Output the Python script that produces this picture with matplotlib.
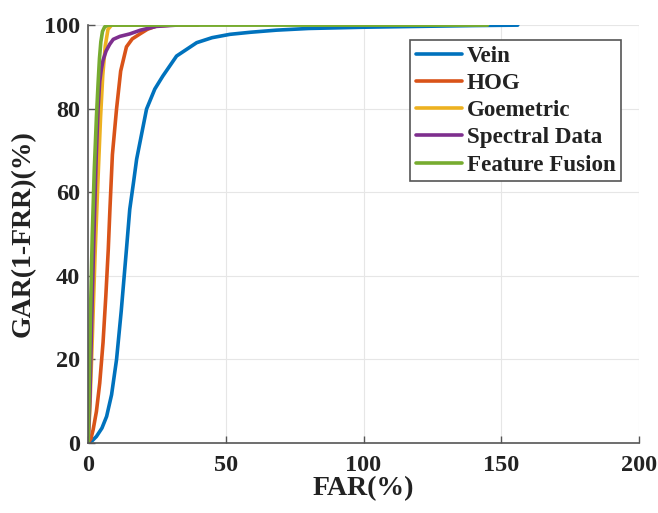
import matplotlib
matplotlib.use("Agg")
import matplotlib.pyplot as plt

plt.rcParams['font.family'] = ['Liberation Serif', 'DejaVu Serif']
plt.rcParams['font.weight'] = 'bold'

labels = ["Vein", "HOG", "Goemetric", "Spectral Data", "Feature Fusion"]
colors = ["#0072BD", "#D95319", "#EDB120", "#7E2F8E", "#77AC30"]

vein_x = [0, 1.5, 3.0, 5.0, 6.7, 8.5, 10.3, 12.0, 13.9, 15.1, 16.5, 17.6, 19.4, 21.2, 24.2, 27.1, 32.1, 39.4, 45, 51.5, 59, 68.4, 80, 100, 120, 140, 156]
vein_y = [0, 0.5, 1.5, 3.5, 6.3, 11.5, 19.9, 31.5, 46.3, 55.9, 62.5, 67.9, 73.9, 79.9, 84.7, 87.8, 92.6, 95.8, 97.0, 97.8, 98.3, 98.8, 99.2, 99.5, 99.7, 99.9, 100]

hog_x = [0, 1.0, 1.8, 3.0, 4.2, 5.4, 6.4, 7.3, 7.9, 8.8, 10.3, 11.8, 13.9, 16, 18.8, 21.5, 24.8, 30, 40]
hog_y = [0, 1.0, 3.1, 7.5, 14.3, 24, 35, 46.3, 55.9, 69, 79.9, 89, 94.8, 96.7, 97.9, 99.0, 99.8, 100, 100]

geo_x = [0, 0.6, 1.5, 2.5, 3.5, 4.5, 5.3, 6.2, 7.2, 8.5, 20]
geo_y = [0, 8, 25, 45, 62, 78, 88, 95, 99, 100, 100]

spec_x = [0, 0.6, 1.3, 2.1, 2.9, 3.6, 4.2, 4.8, 5.4, 6.5, 7.8, 9.1, 11.5, 15.1, 19, 24.8, 32]
spec_y = [0, 10, 30, 50, 68, 80, 86.5, 89.5, 91.6, 93.8, 95.4, 96.6, 97.3, 97.9, 98.8, 99.7, 100]

fus_x = [0, 0.3, 0.8, 1.5, 2.2, 3.0, 3.6, 4.1, 4.6, 5.2, 6.0, 7.2, 145]
fus_y = [0, 10, 30, 50, 65, 78, 86, 92, 96, 98.5, 99.6, 100, 100]

series = [(vein_x, vein_y), (hog_x, hog_y), (geo_x, geo_y), (spec_x, spec_y), (fus_x, fus_y)]

fig = plt.figure(figsize=(6.58, 5.13), dpi=100)
ax = fig.add_axes([0.134, 0.137, 0.837, 0.814])

for (x, y), c, lab in zip(series, colors, labels):
    ax.plot(x, y, color=c, lw=2.6, label=lab, solid_capstyle='round', solid_joinstyle='round')

ax.set_xlim(0, 200)
ax.set_ylim(0, 100)
ax.set_xticks([0, 50, 100, 150, 200])
ax.set_yticks([0, 20, 40, 60, 80, 100])
ax.grid(True, color='#e6e6e6', lw=0.8)
ax.set_axisbelow(True)
for s in ['top', 'right']:
    ax.spines[s].set_visible(False)
for s in ['left', 'bottom']:
    ax.spines[s].set_color('#555555')
    ax.spines[s].set_linewidth(1.2)
ax.tick_params(direction='in', length=5, width=1, colors='#555555', labelcolor='#222222', labelsize=17.5)
ax.tick_params(axis='x', pad=9)
ax.tick_params(axis='y', pad=6)
for t in ax.get_xticklabels() + ax.get_yticklabels():
    t.set_fontweight('bold')

ax.set_xlabel("FAR(%)", fontsize=20, fontweight='bold', color='#222222', labelpad=0)
ax.set_ylabel("GAR(1-FRR)(%)", fontsize=20, fontweight='bold', color='#222222', labelpad=6)

leg = ax.legend(loc='upper right', bbox_to_anchor=(0.968, 0.964), borderaxespad=0, fontsize=16.6,
                handlelength=2.0, handletextpad=0.2, labelspacing=0.26,
                borderpad=0.25, fancybox=False, framealpha=1, edgecolor='#555555')
leg.get_frame().set_linewidth(1.2)
for t in leg.get_texts():
    t.set_fontweight('bold')
    t.set_color('#222222')

fig.savefig("out.png", dpi=100)
